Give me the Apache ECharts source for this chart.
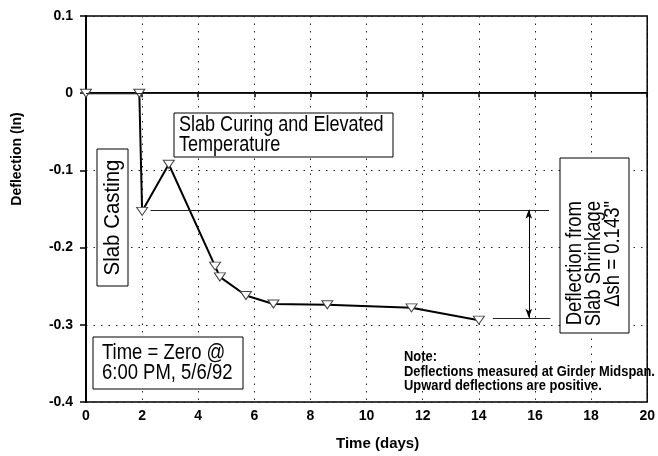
<!DOCTYPE html>
<html>
<head>
<meta charset="utf-8">
<script src="https://cdn.jsdelivr.net/npm/echarts@6/dist/echarts.min.js"></script>
<style>
  html, body { margin: 0; padding: 0; background: #fff; }
  #chart { width: 658px; height: 456px; }
</style>
</head>
<body>
<div id="chart"></div>
<script>
// readings
const timeDays = [0, 1.9, 2.0, 2.95, 4.6, 4.77, 5.7, 6.68, 8.6, 11.6, 14.0];
const deflection = [0, 0, -0.153, -0.092, -0.224, -0.238, -0.262, -0.273, -0.274, -0.278, -0.294];
const xTicks = [0, 2, 4, 6, 8, 10, 12, 14, 16, 18, 20];
const yTicks = [-0.4, -0.3, -0.2, -0.1, 0, 0.1];
// shrinkage reference lines (time from, time to, deflection)
const shrinkTop = [2.3, 16.5, -0.151];
const shrinkBottom = [14.5, 16.55, -0.291];
const shrinkArrowX = 15.78;

// no narrow face installed, so the annotation text gets squeezed with scaleX
const sans = "'Liberation Sans', Arial, sans-serif";
const tickFont = { color: "#000", fontFamily: sans, fontWeight: "bold", fontSize: 14 };

const chart = echarts.init(document.getElementById("chart"));
chart.setOption({
  animation: false,
  backgroundColor: "#fff",
  grid: {
    left: 86,
    right: 3,
    top: 16,
    bottom: 51,
    show: true,
    borderColor: "#000",
    borderWidth: 1.5,
  },
  xAxis: {
    type: "value",
    min: xTicks[0],
    max: xTicks[xTicks.length - 1],
    interval: 2,
    name: "Time (days)",
    nameLocation: "middle",
    nameGap: 34,
    nameTextStyle: { ...tickFont, fontSize: 15, padding: [0, 0, 0, 22] },
    axisLine: { lineStyle: { color: "#000", width: 2 } },
    axisTick: { show: true, length: 4, lineStyle: { color: "#000", width: 1.5 } },
    axisLabel: { ...tickFont, margin: 7 },
    splitLine: { show: true, lineStyle: { color: "#222", width: 1, type: [1.5, 6] } },
  },
  yAxis: {
    type: "value",
    min: yTicks[0],
    max: yTicks[yTicks.length - 1],
    interval: 0.1,
    name: "Deflection (In)",
    nameLocation: "middle",
    nameRotate: 90,
    nameGap: 62,
    nameTextStyle: { ...tickFont, fontSize: 14, padding: [0, 0, 0, 100] },
    axisLine: { lineStyle: { color: "#000", width: 2 } },
    axisTick: { show: true, length: 6, lineStyle: { color: "#000", width: 1.5 } },
    axisLabel: {
      ...tickFont,
      margin: 13,
      formatter: (v) => (Math.abs(v) < 1e-9 ? "0" : String(+v.toFixed(1))),
    },
    splitLine: { show: true, lineStyle: { color: "#222", width: 1, type: [1.5, 6] } },
  },
  series: [
    {
      type: "line",
      data: timeDays.map((t, i) => [t, deflection[i]]),
      lineStyle: { color: "#000", width: 2 },
      symbol: "triangle",
      symbolRotate: 180,
      symbolSize: [11, 8],
      itemStyle: { color: "#fff", borderColor: "#444", borderWidth: 1 },
      z: 3,
      markLine: {
        silent: true,
        symbol: ["none", "none"],
        label: { show: false },
        lineStyle: { color: "#222", width: 1, type: "solid" },
        data: [
          { yAxis: 0 },
          [{ coord: [shrinkTop[0], shrinkTop[2]] }, { coord: [shrinkTop[1], shrinkTop[2]] }],
          [{ coord: [shrinkBottom[0], shrinkBottom[2]] }, { coord: [shrinkBottom[1], shrinkBottom[2]] }],
        ],
      },
    },
    {
      type: "line",
      data: [],
      markLine: {
        silent: true,
        symbol: ["arrow", "arrow"],
        symbolSize: [5, 9],
        label: { show: false },
        lineStyle: { color: "#000", width: 1, type: "solid" },
        data: [[{ coord: [shrinkArrowX, shrinkTop[2]] }, { coord: [shrinkArrowX, shrinkBottom[2]] }]],
      },
    },
  ],
  graphic: [
    // Slab Casting
    { type: "rect", shape: { x: 97, y: 149, width: 31, height: 137 }, style: { fill: "#fff", stroke: "#000", lineWidth: 1 }, z: 10 },
    {
      type: "text", x: 112.5, y: 217.5, rotation: Math.PI / 2, scaleX: 0.93, z: 11,
      style: { text: "Slab Casting", font: "22px " + sans, fill: "#000", align: "center", verticalAlign: "middle" },
    },
    // Slab Curing
    { type: "rect", shape: { x: 174, y: 113, width: 219, height: 44 }, style: { fill: "#fff", stroke: "#000", lineWidth: 1 }, z: 10 },
    {
      type: "text", x: 179, y: 135, scaleX: 0.82, z: 11,
      style: { text: "Slab Curing and Elevated\nTemperature", font: "22px " + sans, lineHeight: 20, fill: "#000", align: "left", verticalAlign: "middle" },
    },
    // shrinkage box
    { type: "rect", shape: { x: 560, y: 158, width: 69, height: 175 }, style: { fill: "#fff", stroke: "#000", lineWidth: 1 }, z: 10 },
    {
      type: "text", x: 594, y: 201, rotation: Math.PI / 2, scaleX: 0.84, z: 11,
      style: { text: "Deflection from\nSlab Shrinkage\n\u0394sh = 0.143\"", font: "22px " + sans, lineHeight: 19, fill: "#000", align: "right", verticalAlign: "middle" },
    },
    // time zero
    { type: "rect", shape: { x: 93, y: 337, width: 150, height: 52 }, style: { fill: "#fff", stroke: "#000", lineWidth: 1 }, z: 10 },
    {
      type: "text", x: 102, y: 363, scaleX: 0.84, z: 11,
      style: { text: "Time = Zero @\n6:00 PM, 5/6/92", font: "22px " + sans, lineHeight: 20, fill: "#000", align: "left", verticalAlign: "middle" },
    },
    // note
    {
      type: "text", x: 404, y: 350, scaleX: 0.86, z: 11,
      style: { text: "Note:\nDeflections measured at Girder Midspan.\nUpward deflections are positive.", font: "bold 15px " + sans, lineHeight: 14.5, fill: "#000", align: "left", verticalAlign: "top" },
    },
  ],
});
</script>
</body>
</html>
